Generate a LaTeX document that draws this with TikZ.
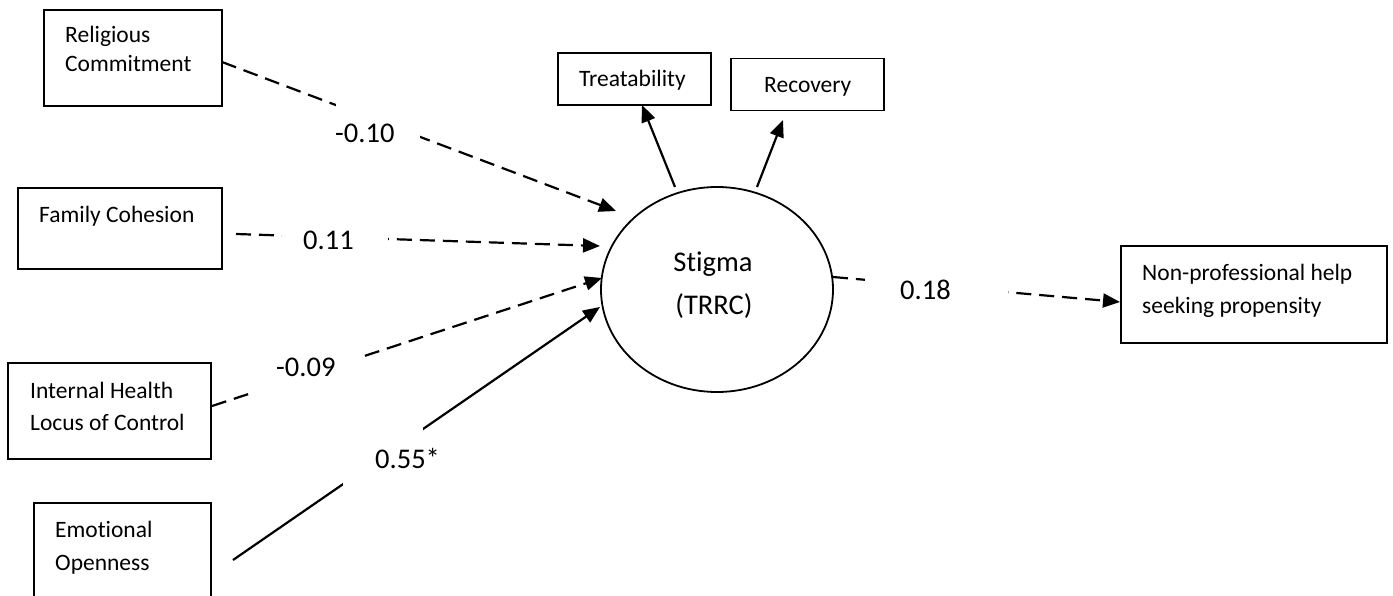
\documentclass[tikz,border=0pt]{standalone}
\usepackage{fontspec}
\setmainfont{Carlito}[Ligatures=NoCommon]
\usetikzlibrary{arrows.meta,shapes.geometric}
\begin{document}
\begin{tikzpicture}[x=1pt,y=-1pt,
  box/.style={draw, line width=1.8pt, inner sep=0pt},
  btxt/.style={font=\fontsize{23.5}{28}\selectfont, inner sep=0pt, anchor=base west},
  lbl/.style={font=\fontsize{28.5}{34}\selectfont, inner sep=0pt, anchor=base west},
  mask/.style={fill=white, inner sep=0pt},
  tip/.style={-{Triangle[length=17pt,width=14pt]}},
  dsh/.style={line width=2.2pt, dash pattern=on 15pt off 8pt, tip},
  sld/.style={line width=2.2pt, tip}
]
\useasboundingbox[fill=white] (0,0) rectangle (1393,596);

% boxes
\node[box, minimum width=178, minimum height=96] (rc) at (133,58) {};
\node[box, minimum width=204, minimum height=81] (fc) at (120,228.5) {};
\node[box, minimum width=203, minimum height=96] (ih) at (109.5,411) {};
\node[box, minimum width=177, minimum height=97] (eo) at (122.5,551.5) {};
\node[box, minimum width=153, minimum height=52] (tr) at (634.5,79) {};
\node[box, minimum width=153, minimum height=52] (rv) at (807.5,84.5) {};
\node[box, minimum width=266, minimum height=97] (np) at (1254,294.5) {};
\node[draw, line width=1.8pt, ellipse, minimum width=232, minimum height=205, inner sep=0pt] (st) at (717,289.5) {};

% box texts
\node[btxt] (rc1) at (65,43) {Religious};
\node[btxt] (rc2) at (65,72) {Commitment};
\node[btxt] (fc1) at (39,223) {Family Cohesion};
\node[btxt] (ih1) at (30,398) {Internal Health};
\node[btxt] (ih2) at (30,430) {Locus of Control};
\node[btxt] (eo1) at (55,537) {Emotional};
\node[btxt] (eo2) at (55,570) {Openness};
\node[btxt] (np1) at (1142,280) {Non-professional help};
\node[btxt] (np2) at (1142,313) {seeking propensity};
\node[btxt] (tr1) at (579,87) {Treatability};
\node[btxt] (rv1) at (764,93) {Recovery};
\node[lbl, anchor=base] (st1) at (713,272) {Stigma};
\node[lbl, anchor=base] (st2) at (714,315) {(TRRC)};

% connector end points
\coordinate (s1) at (222,62);  \coordinate (t1) at (616,211);
\coordinate (s2) at (236,234); \coordinate (t2) at (600,246);
\coordinate (s3) at (212,406); \coordinate (t3) at (602,278);
\coordinate (s4) at (233,560); \coordinate (t4) at (600,307);
\coordinate (s5) at (675,187); \coordinate (t5) at (642,105);
\coordinate (s6) at (757,187); \coordinate (t6) at (783,120);
\coordinate (s7) at (833,277); \coordinate (t7) at (1120,302);

% connectors
\draw[dsh] (s1) -- (t1);
\draw[dsh] (s2) -- (t2);
\draw[dsh] (s3) -- (t3);
\draw[sld] (s4) -- (t4);
\draw[sld] (s5) -- (t5);
\draw[sld] (s6) -- (t6);
\draw[dsh] (s7) -- (t7);

% label backgrounds (gaps in connectors)
\node[mask, minimum width=84, minimum height=56] (m1) at (378,132) {};
\node[mask, minimum width=106, minimum height=42] (m2) at (335,241) {};
\node[mask, minimum width=105, minimum height=50] (m3) at (307.5,375) {};
\node[mask, minimum width=80, minimum height=58] (m4) at (383,457) {};
\node[mask, minimum width=143, minimum height=50] (m5) at (936.5,290) {};

% labels
\node[lbl] (l1) at (335,143) {-0.10};
\node[lbl] (l2) at (303,250) {0.11};
\node[lbl] (l3) at (276,376) {-0.09};
\node[lbl] (l4) at (375,468) {0.55*};
\node[lbl] (l5) at (900,299) {0.18};
\end{tikzpicture}
\end{document}
